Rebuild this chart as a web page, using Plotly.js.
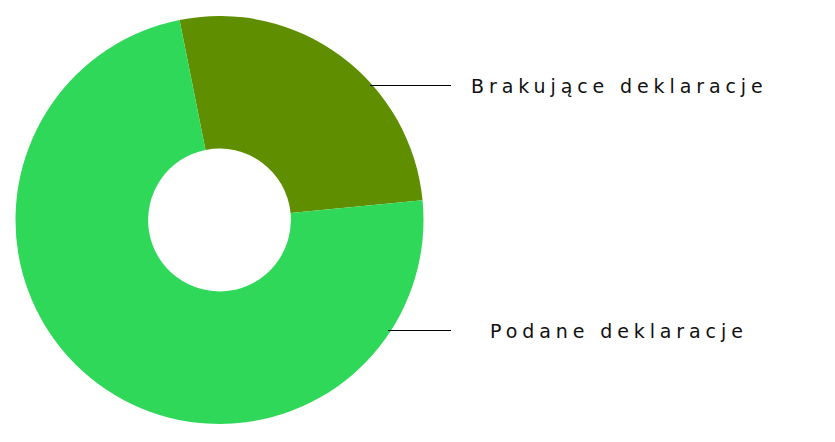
<!DOCTYPE html>
<html>
<head>
<meta charset="utf-8">
<script src="https://cdn.plot.ly/plotly-3.0.1.min.js"></script>
<style>
html,body{margin:0;padding:0;background:#fff;}
#chart{width:835px;height:442px;}
.annotation-text{letter-spacing:4.9px;}
</style>
</head>
<body>
<div id="chart"></div>
<script>
const labels = ["Brakujące deklaracje", "Podane deklaracje"];
const values = [26.6, 73.4];
const colors = ["#5f8f00", "#30d85a"];

const W = 835, H = 442;
const cx = 219.5, cy = 220, R = 204;
const labelY = [85.5, 330.5];
const labelX = 619;
const lineEnd = 451;

const shapes = labelY.map(y => {
  const dy = y - cy;
  const x0 = cx + Math.sqrt(R*R - dy*dy) - 3;
  return {type:'line', xref:'paper', yref:'paper',
    x0: x0/W, x1: lineEnd/W, y0: 1 - y/H, y1: 1 - y/H,
    line:{color:'#000', width:1}};
});
const annotations = labels.map((t,i) => ({
  text: t, xref:'paper', yref:'paper', x: labelX/W, y: 1 - (labelY[i]+0.5)/H,
  xanchor:'center', yanchor:'middle', showarrow:false,
  font:{family:'DejaVu Sans', size:19, color:'#111'}
}));

Plotly.newPlot('chart', [{
  type:'pie', labels: labels, values: values,
  marker:{colors: colors, line:{width:0}},
  hole: 0.35, sort:false, direction:'clockwise', rotation: -11.3,
  textinfo:'none', hoverinfo:'none', showlegend:false,
  domain:{x:[(cx-R)/W,(cx+R)/W], y:[(H-cy-R)/H,(H-cy+R)/H]}
}], {
  width:W, height:H, margin:{l:0,r:0,t:0,b:0},
  paper_bgcolor:'#fff', showlegend:false,
  shapes: shapes, annotations: annotations
}, {displayModeBar:false, staticPlot:true});
</script>
</body>
</html>
